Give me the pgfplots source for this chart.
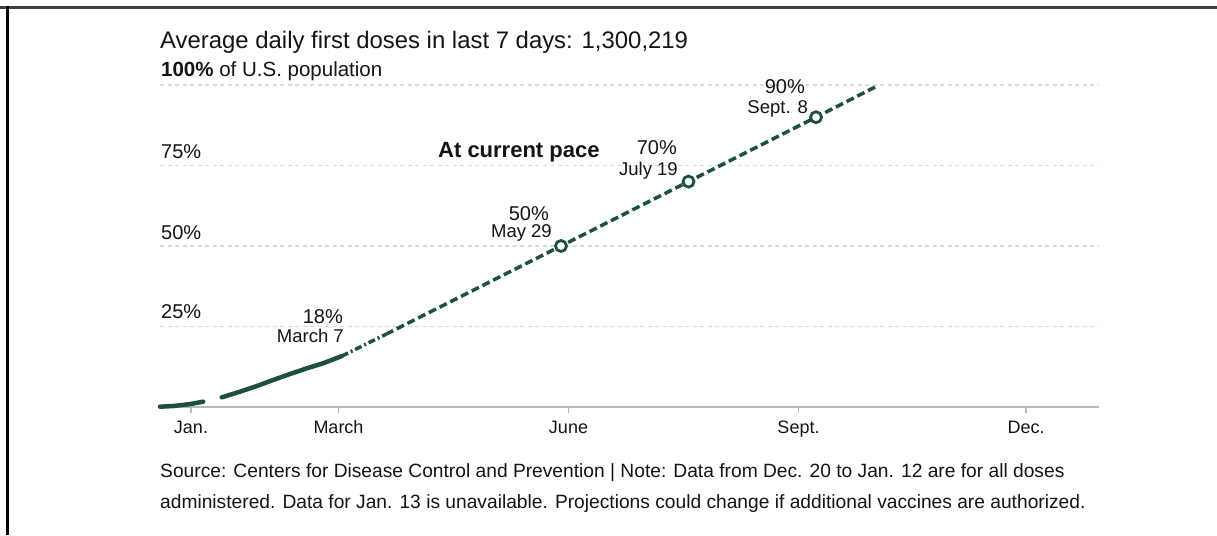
\documentclass[border=0pt]{standalone}
\usepackage{pgfplots}
\pgfplotsset{compat=1.18}
\usepackage{fontspec}
\setmainfont{Liberation Sans}
\definecolor{vgreen}{RGB}{30,80,62}
\definecolor{txt}{RGB}{20,20,20}
\definecolor{gridc}{RGB}{218,218,218}
\newcommand{\fs}[1]{\fontsize{#1}{#1}\selectfont}

\begin{document}
\begin{tikzpicture}[x=1pt,y=1pt]
\path[use as bounding box] (0,0) rectangle (1217,535);
\draw[line width=3pt, black!75] (0,527) -- (1217,527);
\draw[line width=3pt, black] (7.5,528.5) -- (7.5,0);

\node[anchor=base west, inner sep=0, font=\fs{23.9}, text=txt] at (160,486.7) {Average daily first doses in last 7 days: 1,300,219};
\node[anchor=base west, inner sep=0, font=\fs{20.5}, text=txt] at (161,458) {\textbf{100\%} of U.S. population};
\node[anchor=base west, inner sep=0, font=\fs{20}, text=txt] at (161,376) {75\%};
\node[anchor=base west, inner sep=0, font=\fs{20}, text=txt] at (161,295) {50\%};
\node[anchor=base west, inner sep=0, font=\fs{20}, text=txt] at (161,216) {25\%};
\node[anchor=base west, inner sep=0, font=\fs{19.2}, text=txt] at (160,57.5) {Source: Centers for Disease Control and Prevention | Note: Data from Dec. 20 to Jan. 12 are for all doses};
\node[anchor=base west, inner sep=0, font=\fs{19.2}, text=txt] at (160,26.5) {administered. Data for Jan. 13 is unavailable. Projections could change if additional vaccines are authorized.};

\begin{axis}[at={(160pt,128pt)}, anchor=south west, scale only axis,
  width=939pt, height=322pt,
  xmin=-12.4, xmax=363.2, ymin=0, ymax=100,
  axis x line=bottom, axis y line=left,
  x axis line style={gridc!85!black, line width=1.5pt, -},
  y axis line style={draw=none},
  ytick={25,50,75,100}, yticklabels={}, ytick style={draw=none},
  ymajorgrids, grid style={gridc, dash pattern=on 4pt off 3.5pt, line width=1.2pt},
  xtick={0,59,151,243,334}, xticklabels={Jan.,March,June,Sept.,Dec.},
  xtick style={gridc!85!black, line width=1.2pt}, major tick length=6pt, tick align=outside,
  xticklabel style={font=\fs{18}, text=txt, anchor=base, yshift=-21pt},
  clip=false]
% reported data, before the gap
\addplot[vgreen, line width=4.5pt, line cap=round] coordinates {
  (-12.4,0.1) (-7.1,0.3) (-0.4,0.9) (4.9,1.65)};
% reported data, after the gap
\addplot[vgreen, line width=4.5pt, line cap=round] coordinates {
  (12.3,3.0) (19.6,4.75) (26.3,6.5) (32.9,8.4) (39.6,10.25) (46.3,12.0) (52.9,13.6) (60.3,15.8)};
% transition
\addplot[vgreen, line width=3.5pt, dash pattern=on 7pt off 3pt on 2pt off 3pt] coordinates {
  (60.3,15.8) (78,22.6)};
% projection
\addplot[vgreen, line width=3.5pt, dash pattern=on 8pt off 4pt] coordinates {
  (78,22.6) (148,50) (199,70) (250,90) (274.5,99.7)};
% milestones
\addplot[only marks, mark=*, mark size=5.5pt, mark options={fill=white, draw=vgreen, line width=2.8pt}] coordinates {
  (148,50) (199,70) (250,90)};

\node[anchor=base east, inner sep=0, font=\fs{20}, text=txt] at (axis cs:60.8,25.8) {18\%};
\node[anchor=base east, inner sep=0, font=\fs{18.5}, text=txt] at (axis cs:61.2,19.9) {March 7};
\node[anchor=base east, inner sep=0, font=\fs{20}, text=txt] at (axis cs:143.2,57.8) {50\%};
\node[anchor=base east, inner sep=0, font=\fs{18.5}, text=txt] at (axis cs:144.4,52.5) {May 29};
\node[anchor=base east, inner sep=0, font=\fs{20}, text=txt] at (axis cs:194.4,78.3) {70\%};
\node[anchor=base east, inner sep=0, font=\fs{18.5}, text=txt] at (axis cs:194.8,72.0) {July 19};
\node[anchor=base east, inner sep=0, font=\fs{20}, text=txt] at (axis cs:245.6,97.5) {90\%};
\node[anchor=base east, inner sep=0, font=\fs{18.5}, text=txt] at (axis cs:246.8,91.0) {Sept. 8};
\node[anchor=base west, inner sep=0, font=\bfseries\fs{22}, text=txt] at (axis cs:98.8,77.6) {At current pace};
\end{axis}
\end{tikzpicture}
\end{document}
